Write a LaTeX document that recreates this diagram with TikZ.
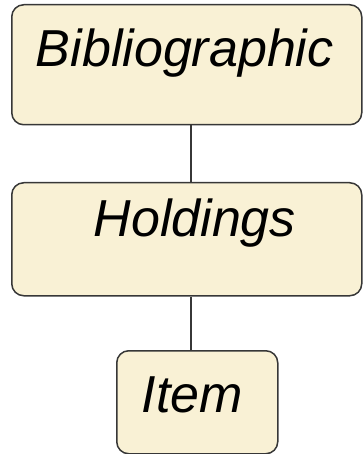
\documentclass[tikz,border=0pt]{standalone}
\usepackage{fontspec}
\setmainfont{Liberation Sans}
\usepackage{tikz}
\definecolor{cardfill}{RGB}{249,241,213}
\definecolor{cardline}{RGB}{55,55,55}
\tikzset{
  card/.style={draw=cardline, fill=cardfill, line width=1.5pt,
    rounded corners=12pt, inner sep=0pt, anchor=north west,
    font=\fontsize{52}{62}\selectfont\itshape},
  link/.style={draw=cardline, line width=1.5pt}
}
\begin{document}
\begin{tikzpicture}[x=1pt,y=1pt]
  \useasboundingbox (0,0) rectangle (363,-454);
  \node[card, minimum width=350pt, text height=62pt, text depth=58pt] (bib) at (11,-4) {Bibliographic\hspace*{4pt}};
  \node[card, minimum width=350pt, text height=54pt, text depth=59pt] (hold) at (11,-182) {\hspace*{16pt}Holdings};
  \node[card, minimum width=161pt, text height=62pt, text depth=41pt] (item) at (116,-350) {Item\hspace*{10pt}};
  \coordinate (spine) at (191,0);
  %\draw (bib) -- (hold) -- (item);
  \draw[link] (bib.south -| spine) -- (hold.north -| spine);
  \draw[link] (hold.south -| spine) -- (item.north -| spine);
\end{tikzpicture}
\end{document}
